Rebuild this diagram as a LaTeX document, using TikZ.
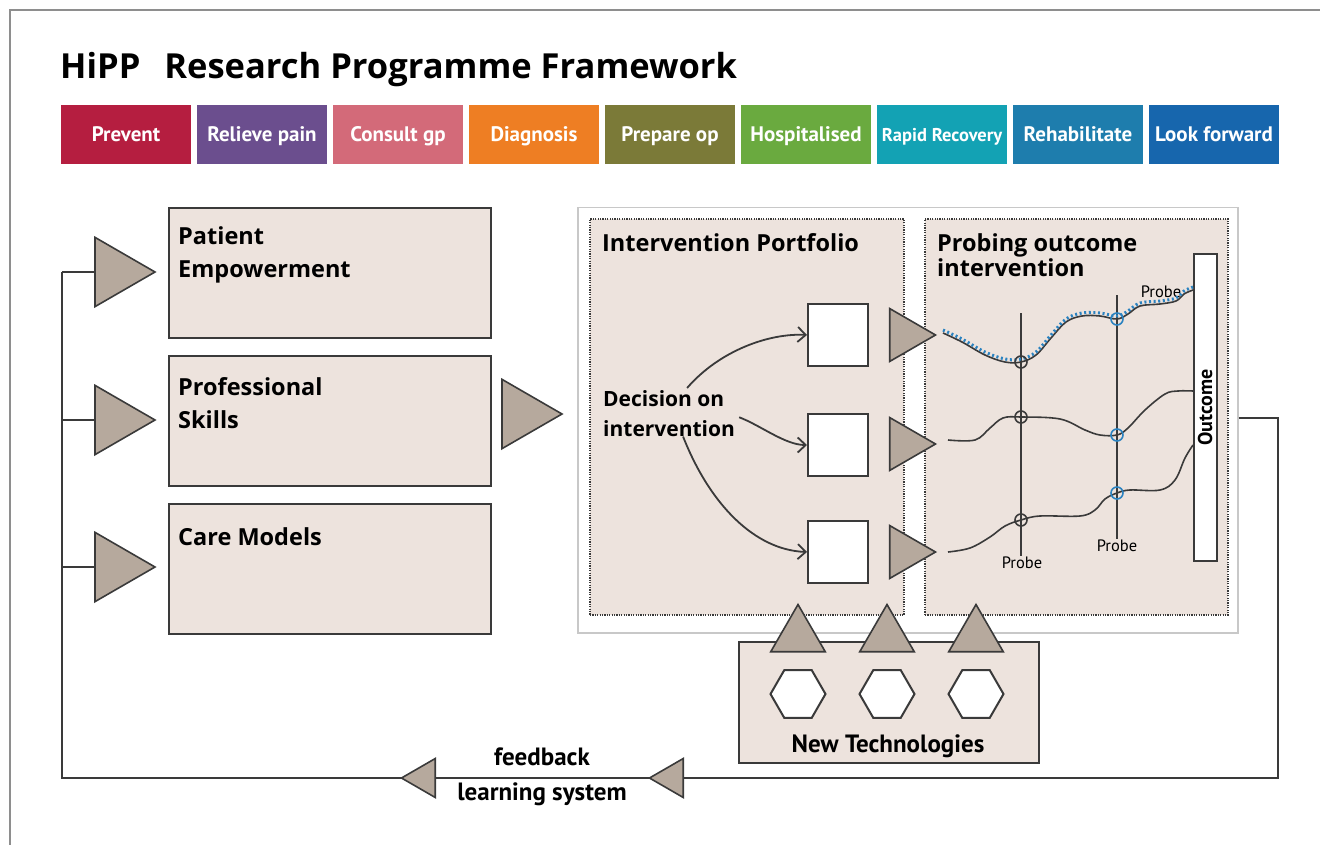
\documentclass[tikz,border=0pt]{standalone}
\usepackage{fontspec}
\setmainfont{Open Sans}
\newfontfamily\narrow{PT Sans}
\usetikzlibrary{shapes.geometric,arrows.meta,positioning,calc}

\definecolor{boxfill}{HTML}{EDE3DD}
\definecolor{headfill}{HTML}{B6A99D}
\definecolor{edgegray}{HTML}{3A3A3A}
\definecolor{framegray}{HTML}{8E8E8E}
\definecolor{panelgray}{HTML}{C8C8C8}
\definecolor{probeblue}{HTML}{2A82C0}
\definecolor{cPrev}{HTML}{B51E40}
\definecolor{cRel}{HTML}{6B4E8E}
\definecolor{cCon}{HTML}{D36A79}
\definecolor{cDia}{HTML}{EE7E23}
\definecolor{cPre}{HTML}{7B7A38}
\definecolor{cHos}{HTML}{6AAA3F}
\definecolor{cRap}{HTML}{13A2B4}
\definecolor{cReh}{HTML}{1E7DAD}
\definecolor{cLoo}{HTML}{1766AD}

\tikzset{
    phase/.style={minimum width=130pt, minimum height=59pt, inner sep=0pt},
    phasetext/.style={anchor=base, inner sep=0pt, text=white,
        font=\narrow\bfseries\fontsize{21}{21}\selectfont},
    area/.style={draw=edgegray, line width=2pt, fill=boxfill, inner sep=0pt, anchor=north west},
    dotpanel/.style={draw=edgegray, line width=2pt, dash pattern=on 1.2pt off 1.2pt,
        fill=boxfill, inner sep=0pt, anchor=north west},
    head/.style={regular polygon, regular polygon sides=3, draw=edgegray, line width=1.6pt,
        fill=headfill, inner sep=0pt},
    hexa/.style={regular polygon, regular polygon sides=6, draw=edgegray, line width=2pt,
        fill=white, inner sep=0pt, minimum size=55pt},
    choice/.style={draw=edgegray, line width=2pt, fill=white, inner sep=0pt,
        minimum width=60pt, minimum height=62pt},
    wire/.style={draw=edgegray, line width=2pt},
    flow/.style={draw=edgegray, line width=1.8pt, -{Straight Barb[length=8pt,width=15pt]}},
    trace/.style={draw=edgegray, line width=1.6pt},
    dots/.style={draw=probeblue, line width=3pt, dash pattern=on 2pt off 2.6pt},
    ring/.style={circle, draw=#1, line width=1.6pt, minimum size=12pt, inner sep=0pt},
    heading/.style={inner sep=0pt, align=left, font=\bfseries\fontsize{23.5}{33}\selectfont},
    slim/.style={inner sep=0pt, font=\narrow\bfseries\fontsize{25}{25}\selectfont},
    probe/.style={inner sep=0pt, font=\narrow\fontsize{16.5}{16.5}\selectfont}
}

\begin{document}
\begin{tikzpicture}[x=1pt, y=-1pt]
    \useasboundingbox (0,0) rectangle (1320,845);
    \draw[framegray, line width=2pt] (10,845) -- (10,10) -- (1320,10);

    % title and patient pathway
    \node[anchor=base west, inner sep=0pt, font=\bfseries\fontsize{34.5}{34.5}\selectfont] (title) at (60,79)
        {HiPP\hspace{24pt}Research Programme Framework};
    \foreach \name/\txt/\col [count=\i from 0] in {prev/Prevent/cPrev, rel/Relieve pain/cRel,
            con/Consult gp/cCon, dia/Diagnosis/cDia, pre/Prepare op/cPre, hos/Hospitalised/cHos,
            rap/{\fontsize{18.5}{18.5}\selectfont Rapid Recovery}/cRap, reh/Rehabilitate/cReh,
            loo/Look forward/cLoo}
    {
        \node[phase, fill=\col] (\name) at (126+136*\i,134.5) {};
        \node[phasetext] at (\name.center |- 0,142) {\txt};
    }

    % research themes
    \node[area, minimum width=322pt, minimum height=130pt] (pe) at (168,207) {};
    \node[area, minimum width=322pt, minimum height=130pt] (ps) at (168,355) {};
    \node[area, minimum width=322pt, minimum height=130pt] (cm) at (168,503) {};
    \node[heading, anchor=north west] at (178,226) {Patient\\Empowerment};
    \node[heading, anchor=north west] at (178,377) {Professional\\Skills};
    \node[heading, anchor=north west] at (178,527) {Care Models};

    % feedback loop
    \node[draw=panelgray, line width=1.5pt, fill=white, inner sep=0pt, anchor=north west,
        minimum width=660pt, minimum height=425pt] (port) at (577,207) {};
    \coordinate (fbR) at (1278,418);
    \coordinate (fbB) at (1278,778);
    \coordinate (fbL) at (62,778);
    \coordinate (fbT) at (62,272);
    \draw[wire] (port.east |- fbR) -- (fbR) -- (fbB) -- (fbL) -- (fbT);

    \node[head, minimum size=80pt, shape border rotate=-90] (hpe) at (115,272) {};
    \node[head, minimum size=80pt, shape border rotate=-90] (hps) at (115,420) {};
    \node[head, minimum size=80pt, shape border rotate=-90] (hcm) at (115,567) {};
    \draw[wire] (fbT) -- (hpe.west);
    \draw[wire] (hps.west -| fbT) -- (hps.west);
    \draw[wire] (hcm.west -| fbT) -- (hcm.west);
    \node[head, minimum size=80pt, shape border rotate=-90] (hmid) at (522,414) {};

    \node[head, minimum size=45pt, shape border rotate=90] (fb1) at (424,778) {};
    \node[head, minimum size=45pt, shape border rotate=90] (fb2) at (672,778) {};
    \node[slim, anchor=base] (fbtxt) at (542,765) {feedback};
    \node[slim, anchor=base] (lstxt) at (542,800) {learning system};

    % intervention portfolio
    \node[dotpanel, minimum width=314pt, minimum height=396pt] (ipf) at (589,218) {};
    \node[dotpanel, minimum width=303pt, minimum height=396pt] (poi) at (924,218) {};
    \node[heading, anchor=north west] (iptitle) at (602,233) {Intervention Portfolio};
    \node[heading, anchor=north west, font=\bfseries\fontsize{23.5}{25}\selectfont] (potitle) at (937,233)
        {Probing outcome\\intervention};

    \node[choice] (sq1) at (838,335) {};
    \node[choice] (sq2) at (838,445) {};
    \node[choice] (sq3) at (838,552) {};
    \node[heading, anchor=north west, font=\bfseries\fontsize{21}{30}\selectfont] (dec) at (603,390)
        {Decision on\\intervention};
    \draw[flow] ([xshift=18pt,yshift=2pt]dec.north) .. controls (720,350) and (770,333) .. (sq1.west);
    \draw[flow] ([xshift=4pt,yshift=-4pt]dec.east) .. controls (760,425) and (785,445) .. (sq2.west);
    \draw[flow] ([xshift=14pt]dec.south) .. controls (710,505) and (755,550) .. (sq3.west);

    \node[head, minimum size=61pt, shape border rotate=-90] (h1) at (905,335) {};
    \node[head, minimum size=61pt, shape border rotate=-90] (h2) at (905,444) {};
    \node[head, minimum size=61pt, shape border rotate=-90] (h3) at (905,552) {};

    % probing outcomes
    \node[draw=edgegray, line width=2pt, fill=white, inner sep=0pt, minimum width=23pt,
        minimum height=306pt] (outc) at (1205,407.5) {};
    \node[rotate=90, inner sep=0pt, font=\narrow\bfseries\fontsize{20}{20}\selectfont] at (outc.center) {Outcome};

    \node[probe, anchor=base] (pb1) at (1022,568) {Probe};
    \node[probe, anchor=base] (pb2) at (1117,551) {Probe};
    \node[probe, anchor=base] (pb3) at (1161,297) {Probe};
    \coordinate (pt1) at (1021,313);
    \coordinate (pt2) at (1117,295);
    \draw[trace] (pt1) -- (pt1 |- pb1.north);
    \draw[trace] (pt2) -- (pt2 |- pb2.north);

    \draw[trace] plot[smooth, tension=0.6] coordinates {(943,333) (962,342) (985,355) (1005,362)
        (1021,362) (1036,355) (1051,338) (1066,322) (1082,316) (1100,316) (1117,319) (1128,314)
        (1140,306) (1160,304) (1176,301) (1184,294) (1193,290)};
    \draw[dots, yshift=3pt] plot[smooth, tension=0.6] coordinates {(943,333) (962,342) (985,355)
        (1005,362) (1021,362) (1036,355) (1051,338) (1066,322) (1082,316) (1100,316) (1117,319)
        (1128,314) (1140,306) (1160,304) (1176,301) (1184,294) (1193,290)};
    \draw[trace] plot[smooth, tension=0.6] coordinates {(948,440) (975,440) (990,428) (1003,418)
        (1021,417) (1060,419) (1085,430) (1100,435) (1117,435) (1128,428) (1145,410) (1165,394)
        (1178,391) (1193,391)};
    \draw[trace] plot[smooth, tension=0.6] coordinates {(948,552) (970,548) (990,537) (1005,526)
        (1021,520) (1040,516) (1080,516) (1095,510) (1105,499) (1117,493) (1130,490) (1160,490)
        (1175,480) (1185,458) (1193,445)};

    \node[ring=edgegray] (r1) at (1021,362) {};
    \node[ring=edgegray] (r2) at (1021,417) {};
    \node[ring=edgegray] (r3) at (1021,520) {};
    \node[ring=probeblue] (r4) at (1117,319) {};
    \node[ring=probeblue] (r5) at (1117,435) {};
    \node[ring=probeblue] (r6) at (1117,493) {};

    % new technologies
    \node[area, minimum width=300pt, minimum height=121pt] (tech) at (738,641) {};
    \node[head, minimum size=63pt, shape border rotate=0] (t1) at (798,636) {};
    \node[head, minimum size=63pt, shape border rotate=0] (t2) at (887,636) {};
    \node[head, minimum size=63pt, shape border rotate=0] (t3) at (976,636) {};
    \node[hexa] (hx1) at (798,694) {};
    \node[hexa] (hx2) at (887,694) {};
    \node[hexa] (hx3) at (976,694) {};
    \node[slim, anchor=base] (techtxt) at (888,752) {New Technologies};
\end{tikzpicture}
\end{document}
